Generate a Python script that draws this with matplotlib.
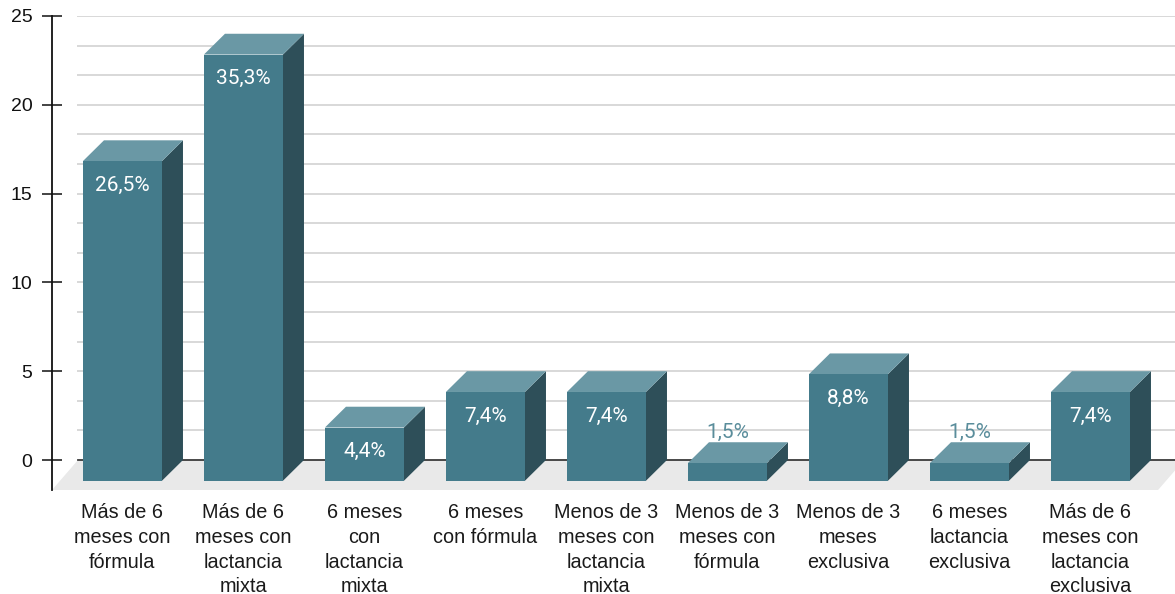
import numpy as np
import matplotlib
matplotlib.use("Agg")
import matplotlib.pyplot as plt
from matplotlib.patches import Polygon

# datos
categorias = [
    "Más de 6\nmeses con\nfórmula",
    "Más de 6\nmeses con\nlactancia\nmixta",
    "6 meses\ncon\nlactancia\nmixta",
    "6 meses\ncon fórmula",
    "Menos de 3\nmeses con\nlactancia\nmixta",
    "Menos de 3\nmeses con\nfórmula",
    "Menos de 3\nmeses\nexclusiva",
    "6 meses\nlactancia\nexclusiva",
    "Más de 6\nmeses con\nlactancia\nexclusiva",
]
valores = [18, 24, 3, 5, 5, 1, 6, 1, 5]
porcentajes = ["26,5%", "35,3%", "4,4%", "7,4%", "7,4%", "1,5%", "8,8%", "1,5%", "7,4%"]

c_frente = "#447b8b"
c_lado = "#2e4f59"
c_tapa = "#6a98a5"
c_texto_fuera = "#5a8d9b"

W, H = 1175, 594
fig = plt.figure(figsize=(W / 100, H / 100), dpi=100)
ax = fig.add_axes([52 / W, (H - 490) / H, (W - 52) / W, (490 - 16) / H])

ymin, ymax = -1.689, 25
xmin, xmax = -0.756, 8.525
ax.set_xlim(xmin, xmax)
ax.set_ylim(ymin, ymax)

w = 0.653      # ancho de barra
dx, dy = 0.174, 1.17   # profundidad 3d
fdx = 0.215    # profundidad del suelo
pared = -0.541

# suelo
suelo = Polygon([(pared, 0), (8.6, 0), (8.6 - fdx, ymin), (pared - fdx, ymin)],
                closed=True, fc="#e9e9e9", ec="none", zorder=1, clip_on=False)
ax.add_patch(suelo)

# rejilla de la pared del fondo
for yv in np.arange(1, 16) * 5 / 3:
    ax.plot([pared, xmax + 0.1], [yv, yv], color="#d8d8d8", lw=1.4, zorder=0.5)
ax.plot([pared, xmax + 0.1], [0, 0], color="#3a3a3a", lw=1.3, zorder=2)

for i, v in enumerate(valores):
    x0, x1 = i - w / 2, i + w / 2
    frente = Polygon([(x0 - dx, -dy), (x1 - dx, -dy), (x1 - dx, v - dy), (x0 - dx, v - dy)],
                     closed=True, fc=c_frente, ec="none", zorder=4)
    lado = Polygon([(x1 - dx, -dy), (x1, 0), (x1, v), (x1 - dx, v - dy)],
                   closed=True, fc=c_lado, ec="none", zorder=3)
    tapa = Polygon([(x0 - dx, v - dy), (x1 - dx, v - dy), (x1, v), (x0, v)],
                   closed=True, fc=c_tapa, ec="none", zorder=3)
    for p in (lado, tapa, frente):
        ax.add_patch(p)
    if v < 2:
        ax.text(i - dx, v + 0.58, porcentajes[i], ha="center", va="center",
                fontsize=15, family="Roboto", color=c_texto_fuera, zorder=5)
    else:
        ax.text(i - dx, v - dy - 1.35, porcentajes[i], ha="center", va="center",
                fontsize=15, family="Roboto", color="white", zorder=5)

for s in ("top", "right", "bottom"):
    ax.spines[s].set_visible(False)
ax.spines["left"].set_linewidth(1.3)
ax.spines["left"].set_color("#111111")

ax.set_yticks(range(0, 26, 5))
ax.tick_params(axis="y", direction="inout", length=14.4, width=1.1, pad=7,
               labelsize=14, colors="#111111")
for t in ax.get_yticklabels():
    t.set_family("Liberation Sans")

ax.set_xticks([i - dx for i in range(len(categorias))])
ax.set_xticklabels(categorias, fontsize=14.3, family="Liberation Sans",
                   color="#1a1a1a", linespacing=1.38)
ax.tick_params(axis="x", length=0, pad=9.5)

fig.savefig("out.png", dpi=100)
